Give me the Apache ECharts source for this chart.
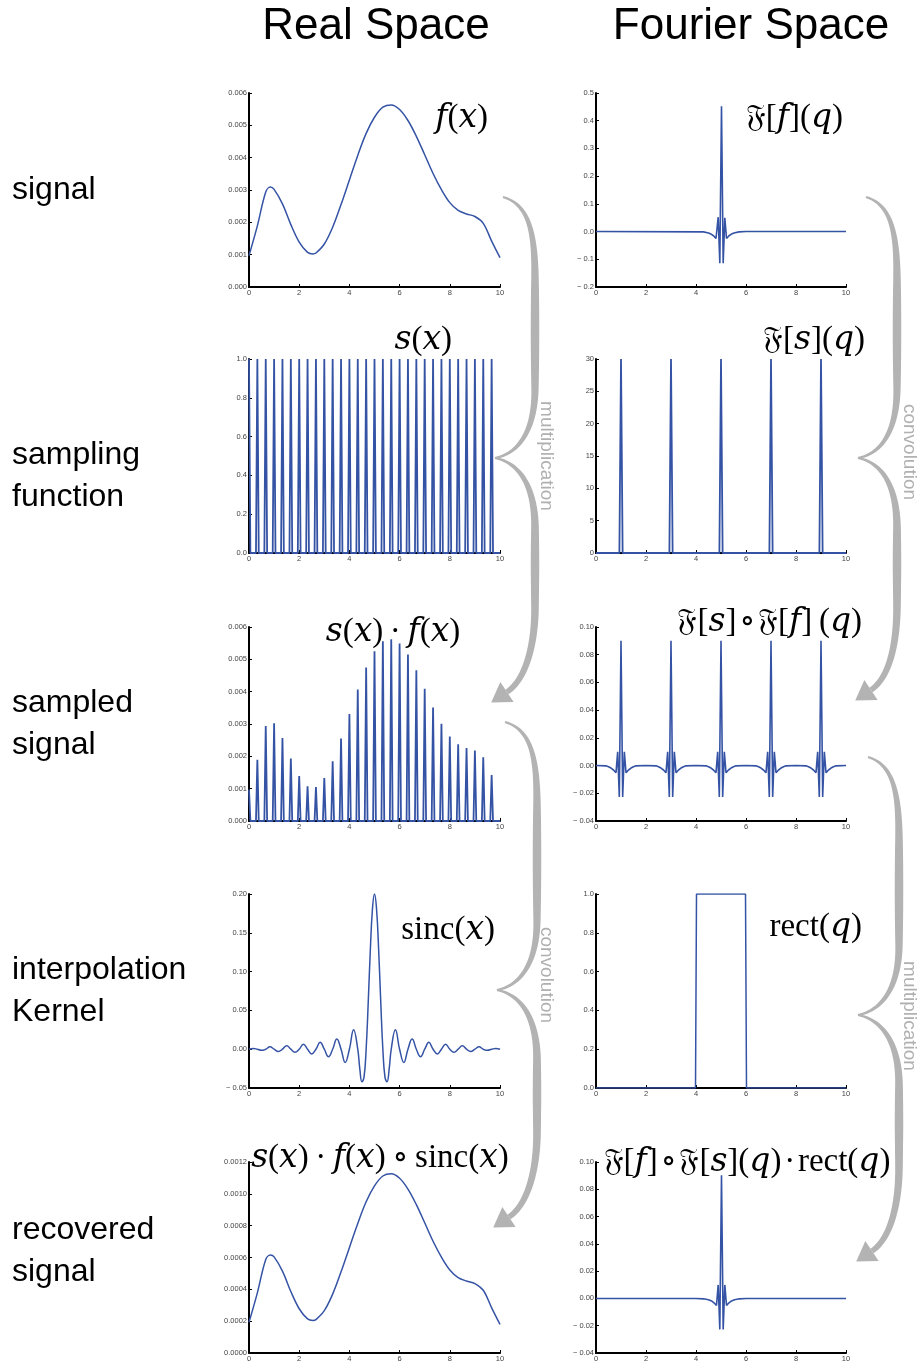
<!DOCTYPE html>
<html><head><meta charset="utf-8">
<script src="https://cdn.jsdelivr.net/npm/echarts@6/dist/echarts.min.js"></script>
<style>html,body{margin:0;padding:0;background:#fff}#c{width:921px;height:1363px}</style>
</head><body><div id="c"></div>
<script>
// ---------------- data ----------------
const xTicks = [0, 2, 4, 6, 8, 10];
// f(x): signal
const fX = [0,0.333,0.667,0.85,1.0,1.333,1.667,2.0,2.333,2.55,2.667,3.0,3.333,3.667,4.0,4.333,4.667,5.0,5.333,5.667,6.0,6.333,6.667,7.0,7.333,7.667,8.0,8.333,8.667,9.0,9.333,9.667,10];
const fY = [0.00097,0.00189,0.00294,0.00309,0.00302,0.00257,0.00193,0.00139,0.00107,0.00102,0.00105,0.00133,0.00185,0.00255,0.00331,0.00407,0.00475,0.00525,0.00556,0.00563,0.00549,0.00515,0.00466,0.00409,0.00351,0.00301,0.00261,0.00237,0.00226,0.00218,0.00197,0.00142,0.00091];
// sample positions and sampled values s(x)*f(x)
const samplePos = [0,0.333,0.667,1.0,1.333,1.667,2.0,2.333,2.667,3.0,3.333,3.667,4.0,4.333,4.667,5.0,5.333,5.667,6.0,6.333,6.667,7.0,7.333,7.667,8.0,8.333,8.667,9.0,9.333,9.667];
const sampleVal = [0.00097,0.00189,0.00294,0.00302,0.00257,0.00193,0.00139,0.00107,0.00105,0.00133,0.00185,0.00255,0.00331,0.00407,0.00475,0.00525,0.00556,0.00562,0.00549,0.00515,0.00466,0.00409,0.00351,0.00301,0.00261,0.00237,0.00226,0.00218,0.00197,0.00142];
const combHeight = 1;
// F[s](q)
const combFPos = [1, 3, 5, 7, 9];
const combFHeight = 30;
// F[f](q)
const ffQ = [0,4.3,4.5,4.6,4.7,4.8,4.887,4.953,5.02,5.087,5.153,5.22,5.32,5.42,5.52,5.72,6.0,10];
const ffV = [0,-0.001,-0.005,-0.009,-0.015,-0.025,0.052,-0.114,0.452,-0.114,0.050,-0.025,-0.015,-0.009,-0.005,-0.001,0,0];
// F[s] o F[f] (q) : repeated pattern around each comb tooth
const convCenters = [1, 3, 5, 7, 9];
const convOffsets = [-1,-0.6,-0.5,-0.4,-0.3,-0.2,-0.133,-0.067,0,0.067,0.133,0.2,0.3,0.4,0.5,0.6,1];
const convValues = [0,-0.0002,-0.0008,-0.0018,-0.0032,-0.0052,0.0099,-0.0227,0.090,-0.0227,0.0099,-0.0052,-0.0032,-0.0018,-0.0008,-0.0002,0];
// sinc(x)
const sincX = [0,0.167,0.333,0.5,0.667,0.833,1.0,1.167,1.333,1.5,1.667,1.833,2.0,2.167,2.333,2.5,2.667,2.833,3.0,3.167,3.333,3.5,3.667,3.833,4.0,4.167,4.333,4.417,4.5,4.583,4.667,4.75,4.833,4.917,5.0,
  5.083,5.167,5.25,5.333,5.417,5.5,5.583,5.667,5.833,6.0,6.167,6.333,6.5,6.667,6.833,7.0,7.167,7.333,7.5,7.667,7.833,8.0,8.167,8.333,8.5,8.667,8.833,9.0,9.167,9.333,9.5,9.667,9.833,10];
const sincY = [0,0.001,0,-0.0015,0,0.003,0,-0.003,0,0.0045,0,-0.004,0,0.0063,0,-0.0062,0,0.0088,0,-0.0097,0,0.013,0,-0.017,0,0.025,0,-0.026,-0.042,-0.036,0,0.06,0.127,0.18,0.2,
  0.18,0.127,0.06,0,-0.036,-0.042,-0.026,0,0.025,0,-0.017,0,0.013,0,-0.0097,0,0.0088,0,-0.0062,0,0.0063,0,-0.004,0,0.0045,0,-0.003,0,0.003,0,-0.0015,0,0.001,0];
// rect(q)
const rectQ = [0,3.98,4.02,5.98,6.02,10];
const rectV = [0,0,1,1,0,0];
// recovered signal
const recX = fX;
const recY = [0.000193,0.000378,0.000588,0.000616,0.000604,0.000514,0.000386,0.000278,0.000214,0.000204,0.000210,0.000266,0.000370,0.000510,0.000662,0.000814,0.000950,0.001050,0.001112,0.001126,0.001098,0.001030,0.000932,0.000818,0.000702,0.000602,0.000522,0.000474,0.000452,0.000436,0.000394,0.000284,0.000180];
// F[f] o F[s] (q) . rect(q)
const frQ = [0,4.0,4.3,4.5,4.62,4.72,4.82,4.887,4.953,5.02,5.087,5.153,5.22,5.32,5.42,5.54,5.74,6.0,10];
const frV = [0,0,-0.0003,-0.001,-0.0018,-0.0032,-0.0052,0.0099,-0.0227,0.0903,-0.0227,0.0099,-0.0052,-0.0032,-0.0018,-0.001,-0.0003,0,0];

// y axis ranges: [min, max, interval, decimals]
const yRanges = [
  [0,0.006,0.001,3],[-0.2,0.5,0.1,1],
  [0,1,0.2,1],[0,30,5,0],
  [0,0.006,0.001,3],[-0.04,0.1,0.02,2],
  [-0.05,0.2,0.05,2],[0,1,0.2,1],
  [0,0.0012,0.0002,4],[-0.04,0.1,0.02,2]
];

// ---------------- build series data ----------------
const zip = (a, b) => a.map((v, i) => [v, b[i]]);
function spikes(pos, vals, hw) {
  const out = [];
  pos.forEach((p, i) => {
    const v = Array.isArray(vals) ? vals[i] : vals;
    if (p - hw >= 0) out.push([p - hw, 0]);
    out.push([p, v]);
    out.push([p + hw, 0]);
  });
  return out;
}
const combData = spikes(samplePos, combHeight, 0.055);
combData.push([10, 0]);
const sampledData = spikes(samplePos, sampleVal, 0.055);
sampledData.push([10, 0]);
const combFData = [[0,0]].concat(spikes(combFPos, combFHeight, 0.065)).concat([[10,0]]);
const convData = [];
convCenters.forEach(c => convOffsets.forEach((o, i) => convData.push([c + o, convValues[i]])));

const seriesData = [
  {d: zip(fX, fY), smooth: 0.35, w: 1.5},
  {d: zip(ffQ, ffV), smooth: false, w: 1.6},
  {d: combData, smooth: false, w: 1.8},
  {d: combFData, smooth: false, w: 1.8},
  {d: sampledData, smooth: false, w: 1.8},
  {d: convData, smooth: false, w: 1.6},
  {d: zip(sincX, sincY), smooth: 0.45, w: 1.5},
  {d: zip(rectQ, rectV), smooth: false, w: 1.5},
  {d: zip(recX, recY), smooth: 0.35, w: 1.5},
  {d: zip(frQ, frV), smooth: false, w: 1.6}
];

// ---------------- layout ----------------
const colLeft = [249, 596];
const colWidth = [251, 250];
const rowTop = [93, 359, 627, 894, 1162];
const rowH = [194, 194, 194, 194, 193];
const blue = '#3553a5';

const grid = [], xAxis = [], yAxis = [], series = [];
for (let i = 0; i < 10; i++) {
  const r = Math.floor(i / 2), c = i % 2;
  grid.push({left: colLeft[c], top: rowTop[r], width: colWidth[c], height: rowH[r], containLabel: false});
  const yr = yRanges[i];
  xAxis.push({
    type: 'value', gridIndex: i, min: 0, max: 10, interval: 2,
    axisLine: {onZero: false, lineStyle: {color: '#000', width: 2}},
    axisTick: {inside: true, length: 3, lineStyle: {color: '#000', width: 1}},
    axisLabel: {fontSize: 7.5, color: '#444', margin: 2, fontFamily: 'Liberation Sans'},
    splitLine: {show: false}
  });
  yAxis.push({
    type: 'value', gridIndex: i, min: yr[0], max: yr[1], interval: yr[2],
    axisLine: {show: true, onZero: false, lineStyle: {color: '#000', width: 2}},
    axisTick: {show: true, inside: true, length: 3, lineStyle: {color: '#000', width: 1}},
    axisLabel: {fontSize: 7.5, color: '#444', margin: 2, fontFamily: 'Liberation Sans',
      formatter: v => (v < -1e-12 ? '\u2212 ' : '') + Math.abs(v).toFixed(yr[3])},
    splitLine: {show: false}
  });
  series.push({
    type: 'line', xAxisIndex: i, yAxisIndex: i, data: seriesData[i].d,
    smooth: seriesData[i].smooth, showSymbol: false, symbol: 'none', clip: true,
    lineStyle: {color: blue, width: seriesData[i].w}, animation: false
  });
}

// ---------------- graphics ----------------
const g = [];
const hdrFont = 'Liberation Sans, Arial, Helvetica, sans-serif';
g.push({type: 'text', x: 376, y: 27, style: {text: 'Real Space', font: '44px ' + hdrFont, fill: '#000', textAlign: 'center', textVerticalAlign: 'middle'}});
g.push({type: 'text', x: 751, y: 27, style: {text: 'Fourier Space', font: '44px ' + hdrFont, fill: '#000', textAlign: 'center', textVerticalAlign: 'middle'}});
const rowLabels = [['signal'], ['sampling', 'function'], ['sampled', 'signal'], ['interpolation', 'Kernel'], ['recovered', 'signal']];
const rowLabelY = [190, 476, 724, 991, 1251];
rowLabels.forEach((lines, r) => {
  const n = lines.length;
  lines.forEach((t, k) => {
    g.push({type: 'text', x: 12, y: rowLabelY[r] + (k - (n - 1) / 2) * 42, style: {text: t, font: '32px ' + hdrFont, fill: '#000', textAlign: 'left', textVerticalAlign: 'middle'}});
  });
});

// math labels (rich text)
const itf = 'DejaVu Serif, Liberation Serif, serif';
const rmf = 'Liberation Serif, DejaVu Serif, serif';
function rich(size) {
  return {
    i: {fontFamily: itf, fontStyle: 'italic', fontSize: size, fill: '#000'},
    r: {fontFamily: rmf, fontSize: size, fill: '#000'},
    k: {fontFamily: 'DejaVu Sans, Noto Sans, serif', fontSize: Math.round(size * 0.93), fill: '#000'}
  };
}
const F = '{k|\uD835\uDD09}';
const hs = '\u200A', ts = '\u2009';
const mathLabels = [
  {x: 488, y: 118, a: 'right', s: 33, t: '{i|f}{r|(}{i|x}{r|)}'},
  {x: 843, y: 118, a: 'right', s: 33, t: F + '{r|[}{i|f}{r|](}{i|q}{r|)}'},
  {x: 452, y: 340, a: 'right', s: 33, t: '{i|s}{r|(}{i|x}{r|)}'},
  {x: 865, y: 340, a: 'right', s: 33, t: F + '{r|[}{i|s}{r|](}{i|q}{r|)}'},
  {x: 393, y: 632, a: 'center', s: 33, t: '{i|s}{r|(}{i|x}{r|)' + ts + '\u00B7' + ts + '}{i|f}{r|(}{i|x}{r|)}'},
  {x: 862, y: 622, a: 'right', s: 33, t: F + '{r|[}{i|s}{r|]' + hs + '\u2218' + hs + '}' + F + '{r|[}{i|f}{r|]' + ts + '(}{i|q}{r|)}'},
  {x: 495, y: 930, a: 'right', s: 33, t: '{r|sinc(}{i|x}{r|)}'},
  {x: 862, y: 927, a: 'right', s: 33, t: '{r|rect(}{i|q}{r|)}'},
  {x: 380, y: 1158, a: 'center', s: 33, t: '{i|s}{r|(}{i|x}{r|)' + ts + '\u00B7' + ts + '}{i|f}{r|(}{i|x}{r|)' + ts + '\u2218' + ts + 'sinc(}{i|x}{r|)}'},
  {x: 747, y: 1162, a: 'center', s: 33, t: F + '{r|[}{i|f}{r|]' + hs + '\u2218' + hs + '}' + F + '{r|[}{i|s}{r|](}{i|q}{r|)' + hs + '\u00B7' + hs + 'rect(}{i|q}{r|)}'}
];
mathLabels.forEach(m => {
  g.push({type: 'text', x: m.x, y: m.y, z: 10, style: {text: m.t, rich: rich(m.s), textAlign: m.a, textVerticalAlign: 'middle'}});
});

// braces with arrows (tapered ribbons)
const gray = '#b3b3b3';
function bez(p0, p1, p2, p3, n) {
  const pts = [];
  for (let i = 0; i <= n; i++) {
    const t = i / n, u = 1 - t;
    pts.push([u*u*u*p0[0] + 3*u*u*t*p1[0] + 3*u*t*t*p2[0] + t*t*t*p3[0],
              u*u*u*p0[1] + 3*u*u*t*p1[1] + 3*u*t*t*p2[1] + t*t*t*p3[1]]);
  }
  return pts;
}
function chain(segs) {
  let pts = [];
  segs.forEach((s, k) => { const p = bez(s[0], s[1], s[2], s[3], 24); pts = pts.concat(k ? p.slice(1) : p); });
  return pts;
}
function ribbon(pts, wfn) {
  const cum = [0];
  for (let i = 1; i < pts.length; i++) cum.push(cum[i-1] + Math.hypot(pts[i][0]-pts[i-1][0], pts[i][1]-pts[i-1][1]));
  const L = cum[cum.length - 1];
  const left = [], right = [];
  for (let i = 0; i < pts.length; i++) {
    const a = pts[Math.max(0, i-1)], b = pts[Math.min(pts.length-1, i+1)];
    let tx = b[0]-a[0], ty = b[1]-a[1]; const tl = Math.hypot(tx, ty) || 1; tx /= tl; ty /= tl;
    const w = wfn(cum[i] / L) / 2;
    left.push([pts[i][0] - ty*w, pts[i][1] + tx*w]);
    right.push([pts[i][0] + ty*w, pts[i][1] - tx*w]);
  }
  return left.concat(right.reverse());
}
function brace(sx, y0, X, cx, y1, bx, by) {
  const upper = chain([
    [[sx, y0], [X - 4, y0 + 8], [X, y0 + 40], [X, y0 + 85]],
    [[X, y0 + 85], [X, y0 + 120], [X, y1 - 105], [X, y1 - 70]],
    [[X, y1 - 70], [X, y1 - 25], [cx + 22, y1 - 4], [cx, y1]]
  ]);
  const lower = chain([
    [[cx, y1], [cx + 22, y1 + 4], [X, y1 + 25], [X, y1 + 70]],
    [[X, y1 + 70], [X, y1 + 105], [X, by - 120], [X, by - 85]],
    [[X, by - 85], [X, by - 45], [bx + 18, by - 12], [bx, by]]
  ]);
  g.push({type: 'polygon', z: 5, shape: {points: ribbon(upper, t => 2 + 6.5 * Math.sin(Math.PI * t))}, style: {fill: gray}});
  g.push({type: 'polygon', z: 5, shape: {points: ribbon(lower, t => t < 0.5 ? 2 + 6.5 * Math.sin(Math.PI * t) : 8.5 - 3 * (t - 0.5) * 2)}, style: {fill: gray}});
  const dx = -18, dy = 12, L = Math.hypot(dx, dy);
  const ux = dx / L, uy = dy / L, px = -uy, py = ux;
  const tip = [bx + ux * 19, by + uy * 19];
  g.push({type: 'polygon', z: 5, shape: {points: [tip, [bx + px * 12, by + py * 12], [bx - px * 12, by - py * 12]]}, style: {fill: gray}});
}
brace(503, 197, 535, 495, 458, 507, 692);
brace(505, 722, 537, 497, 990, 509, 1217);
brace(866, 197, 897, 858, 458, 871, 690);
brace(868, 757, 899, 858, 1015, 872, 1251);

function vtext(t, x, y) {
  g.push({type: 'text', x: x, y: y, rotation: -Math.PI / 2, z: 6, style: {text: t, font: '19px ' + hdrFont, fill: '#b0b0b0', textAlign: 'center', textVerticalAlign: 'middle'}});
}
vtext('multiplication', 546, 456);
vtext('convolution', 546, 975);
vtext('convolution', 909, 452);
vtext('multiplication', 909, 1016);

const chart = echarts.init(document.getElementById('c'), null, {renderer: 'canvas'});
chart.setOption({animation: false, backgroundColor: '#fff', grid, xAxis, yAxis, series, graphic: g});
</script></body></html>
